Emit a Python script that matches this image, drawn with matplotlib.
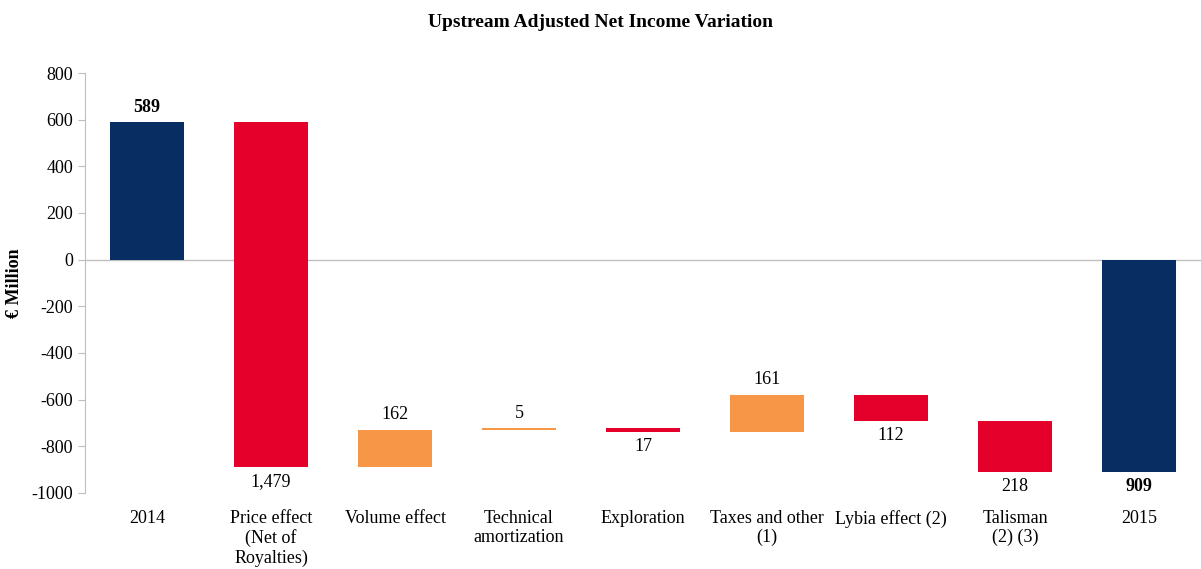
import numpy as np
import matplotlib.pyplot as plt

# ---------------- data ----------------
categories = ['2014', 'Price effect\n(Net of\nRoyalties)', 'Volume effect',
              'Technical\namortization', 'Exploration', 'Taxes and other\n(1)',
              'Lybia effect (2)', 'Talisman\n(2) (3)', '2015']
changes = [589, -1479, 162, 5, -17, 161, -112, -218, -909]
kinds = ['total', 'neg', 'pos', 'pos', 'neg', 'pos', 'neg', 'neg', 'total']
value_labels = ['589', '1,479', '162', '5', '17', '161', '112', '218', '909']

colors = {'total': '#072D63', 'neg': '#E4002B', 'pos': '#F79646'}

# ---------------- waterfall geometry ----------------
bottoms, heights = [], []
running = 0
for c, k in zip(changes, kinds):
    if k == 'total':
        bottoms.append(0)
        heights.append(c)
        running = c
    else:
        bottoms.append(running)
        heights.append(c)
        running += c

plt.rcParams['font.family'] = ['Liberation Serif', 'DejaVu Serif']
plt.rcParams['axes.unicode_minus'] = False

fig = plt.figure(figsize=(12.01, 5.69), dpi=100)
ax = fig.add_axes([0.0708, 0.1336, 0.9292, 0.7381])

x = np.arange(len(categories))
ax.bar(x, heights, bottom=bottoms, width=0.6,
       color=[colors[k] for k in kinds], zorder=3)

for i, (b, h, k, lab) in enumerate(zip(bottoms, heights, kinds, value_labels)):
    top = max(b, b + h)
    low = min(b, b + h)
    weight = 'bold' if k == 'total' else 'normal'
    if (k == 'total' and h > 0) or k == 'pos':
        ax.text(i, top + 28, lab, ha='center', va='bottom', fontsize=13,
                fontweight=weight)
    else:
        ax.text(i, low - 25, lab, ha='center', va='top', fontsize=13,
                fontweight=weight)

ax.axhline(0, color='#BFBFBF', lw=1, zorder=2)

ax.set_xlim(-0.5, len(categories) - 0.5)
ax.set_ylim(-1000, 800)
ax.set_yticks(np.arange(-1000, 801, 200))
ax.tick_params(axis='y', labelsize=13, color='#BFBFBF', length=5)
ax.set_xticks(x)
ax.set_xticklabels(categories, fontsize=13, va='top', linespacing=1.18)
ax.tick_params(axis='x', length=0, pad=12)

for s in ['top', 'right', 'bottom']:
    ax.spines[s].set_visible(False)
ax.spines['left'].set_color('#BFBFBF')

ax.set_ylabel('€ Million', fontsize=13, fontweight='bold', labelpad=6)
fig.suptitle('Upstream Adjusted Net Income Variation', fontsize=14,
             fontweight='bold', y=0.975)

fig.savefig('out.png', dpi=100)
